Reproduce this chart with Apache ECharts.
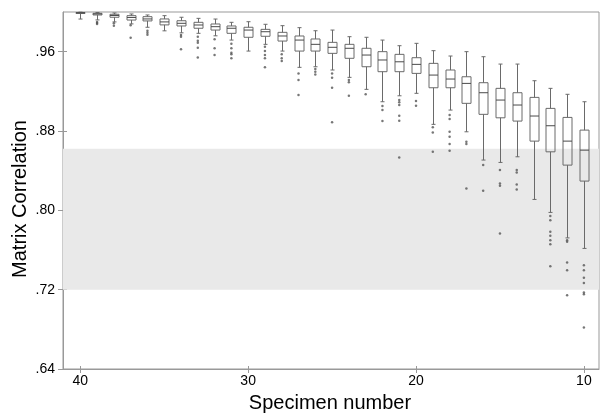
<!DOCTYPE html>
<html>
<head>
    <meta charset="utf-8">
    <script src="https://cdn.jsdelivr.net/npm/echarts@6/dist/echarts.min.js"></script>
</head>
<body style="margin: 0">
    <div id="container" style="width: 602px; height: 415px"></div>
    <script type="text/javascript">
        // specimen counts, left to right (axis runs 40 -> 10)
        var specimens = [40, 39, 38, 37, 36, 35, 34, 33, 32, 31, 30, 29, 28, 27, 26, 25,
            24, 23, 22, 21, 20, 19, 18, 17, 16, 15, 14, 13, 12, 11, 10];
        var whiskerHigh = [.9998, .9995, .999, .998, .997, .9963, .9947, .9936, .9929, .9896, .9902,
            .9876, .9862, .9842, .9811, .9818, .9751, .9745, .9717, .966, .9684, .961, .9556, .96,
            .9549, .9475, .9475, .9307, .923, .917, .9095];
        var q3 = [.9995, .9987, .9977, .9963, .9953, .993, .9912, .9896, .9879, .9859, .9846,
            .9825, .9795, .9758, .9728, .9694, .9674, .9634, .96, .9573, .9539, .9482, .9415, .9347,
            .9287, .923, .9186, .9139, .9028, .8937, .8809];
        var median = [.9992, .998, .9965, .9945, .993, .990, .9886, .9869, .9852, .9836, .9818,
            .9801, .9758, .9717, .9674, .9644, .9634, .9566, .9516, .9498, .9472, .9364, .9324, .928,
            .9186, .9112, .9062, .8951, .8853, .8698, .8607];
        var q1 = [.9985, .997, .9947, .9919, .991, .987, .9859, .9836, .9818, .9785, .9745,
            .9755, .9707, .9606, .9606, .9583, .9533, .9448, .9398, .9398, .9381, .9236, .9236, .9079,
            .8968, .8933, .89, .8698, .859, .8456, .8295];
        var whiskerLow = [.9929, .992, .990, .988, .9846, .981, .979, .9785, .976, .9717, .9606,
            .9674, .9606, .9442, .9448, .9415, .9341, .922, .9095, .9155, .918, .8867, .9011, .8792,
            .8507, .8483, .854, .811, .7979, .7722, .7616];
        var outliers = [
            [],
            [.990, .9889, .9879],
            [.9886, .9862],
            [.9866, .974],
            [.981, .979, .977],
            [],
            [.9768, .975, .9624],
            [.975, .971, .969, .964, .954],
            [.9724, .9634, .9566],
            [.968, .9634, .959, .9573, .9533],
            [],
            [.965, .9606, .9566, .9533, .9442],
            [.9573, .9533, .9506],
            [.9381, .9314, .9162],
            [.9425, .9398, .9371],
            [.9381, .9337, .9236, .8887],
            [.9314, .9291, .9155],
            [.917],
            [.9051, .9011, .89],
            [.9112, .9089, .9062, .8954, .8903, .8534],
            [.9102, .9055],
            [.8837, .8786, .859],
            [.8961, .8921, .8792, .8742, .8668, .86],
            [.8691, .8668, .8221],
            [.8456, .8197],
            [.8406, .8271, .8247, .7767],
            [.8406, .8382, .8261, .8211],
            [],
            [.7944, .7901, .7783, .7743, .7699, .7659, .7437],
            [.7699, .7682, .7474, .7397, .7144],
            [.7447, .7397, .7319, .7268, .7171, .7154, .6818]
        ];
        var yTicks = [.64, .72, .80, .88, .96];
        var xTicks = [10, 20, 30, 40];
        var band = [.72, .862];

        var boxData = specimens.map(function (n, i) {
            return [n, whiskerLow[i], q1[i], median[i], q3[i], whiskerHigh[i]];
        });
        var outlierData = [];
        specimens.forEach(function (n, i) {
            outliers[i].forEach(function (v) { outlierData.push([n, v]); });
        });

        var boxColor = '#6a6a6a';
        function renderBox(params, api) {
            var x = api.value(0);
            var lo = api.coord([x, api.value(1)]);
            var b1 = api.coord([x, api.value(2)]);
            var md = api.coord([x, api.value(3)]);
            var b3 = api.coord([x, api.value(4)]);
            var hi = api.coord([x, api.value(5)]);
            var cx = Math.round(lo[0]) + 0.5;
            var half = 4.5, cap = 2;
            var ln = { stroke: boxColor, lineWidth: 1 };
            return {
                type: 'group',
                children: [
                    { type: 'line', shape: { x1: cx, y1: hi[1], x2: cx, y2: b3[1] }, style: ln },
                    { type: 'line', shape: { x1: cx, y1: b1[1], x2: cx, y2: lo[1] }, style: ln },
                    { type: 'line', shape: { x1: cx - cap, y1: hi[1], x2: cx + cap, y2: hi[1] }, style: ln },
                    { type: 'line', shape: { x1: cx - cap, y1: lo[1], x2: cx + cap, y2: lo[1] }, style: ln },
                    { type: 'rect', shape: { x: cx - half, y: b3[1], width: half * 2, height: b1[1] - b3[1] },
                      style: { fill: 'none', stroke: boxColor, lineWidth: 1 } },
                    { type: 'line', shape: { x1: cx - half, y1: md[1], x2: cx + half, y2: md[1] },
                      style: { stroke: '#4a4a4a', lineWidth: 1 } }
                ]
            };
        }

        var dom = document.getElementById('container');
        var myChart = echarts.init(dom);
        var axisGray = '#999';
        var option = {
            animation: false,
            grid: {
                left: 63, right: 3, top: 12, bottom: 46,
                show: true, borderColor: axisGray, borderWidth: 1
            },
            xAxis: [{
                type: 'value', min: 9.1, max: 41.03, inverse: true,
                axisLine: { lineStyle: { color: axisGray } },
                axisTick: { length: 4, customValues: xTicks, lineStyle: { color: axisGray } },
                axisLabel: {
                    customValues: xTicks, margin: 5, color: '#000',
                    fontFamily: 'Liberation Sans', fontSize: 14
                },
                splitLine: { show: false }
            }, {
                type: 'value', min: 9.1, max: 41.03, inverse: true, position: 'bottom',
                axisLine: { show: false },
                axisTick: { inside: true, length: 3, customValues: xTicks, lineStyle: { color: axisGray } },
                axisLabel: { show: false },
                splitLine: { show: false }
            }],
            yAxis: [{
                type: 'value', min: .64, max: 1.0,
                axisLine: { show: true, lineStyle: { color: axisGray } },
                axisTick: { show: true, length: 5, customValues: yTicks, lineStyle: { color: axisGray } },
                axisLabel: {
                    customValues: yTicks, margin: 8, color: '#000',
                    fontFamily: 'Liberation Sans', fontSize: 14,
                    formatter: function (v) { return v.toFixed(2).replace(/^0/, ''); }
                },
                splitLine: { show: false }
            }, {
                type: 'value', min: .64, max: 1.0, position: 'left',
                axisLine: { show: false },
                axisTick: { show: true, inside: true, length: 4, customValues: yTicks, lineStyle: { color: axisGray } },
                axisLabel: { show: false },
                splitLine: { show: false }
            }],
            graphic: [{
                type: 'text', x: 20, y: 199, rotation: Math.PI / 2,
                style: {
                    text: 'Matrix Correlation', font: '20px "Liberation Sans"', fill: '#000',
                    align: 'center', verticalAlign: 'middle',
                    textAlign: 'center', textVerticalAlign: 'middle'
                }
            }, {
                type: 'text', x: 330, y: 403,
                style: {
                    text: 'Specimen number', font: '20px "Liberation Sans"', fill: '#000',
                    align: 'center', verticalAlign: 'middle',
                    textAlign: 'center', textVerticalAlign: 'middle'
                }
            }],
            series: [{
                // shaded reference band
                type: 'line', data: [], z: 1, silent: true,
                markArea: {
                    silent: true,
                    itemStyle: { color: '#e9e9e9', opacity: 1 },
                    data: [[{ yAxis: band[0] }, { yAxis: band[1] }]]
                }
            }, {
                type: 'custom', z: 3, renderItem: renderBox,
                encode: { x: 0, y: [1, 2, 3, 4, 5] },
                data: boxData
            }, {
                type: 'scatter', z: 4, symbol: 'circle', symbolSize: 2.5,
                itemStyle: { color: '#555' },
                data: outlierData
            }]
        };
        myChart.setOption(option);
    </script>
</body>
</html>
